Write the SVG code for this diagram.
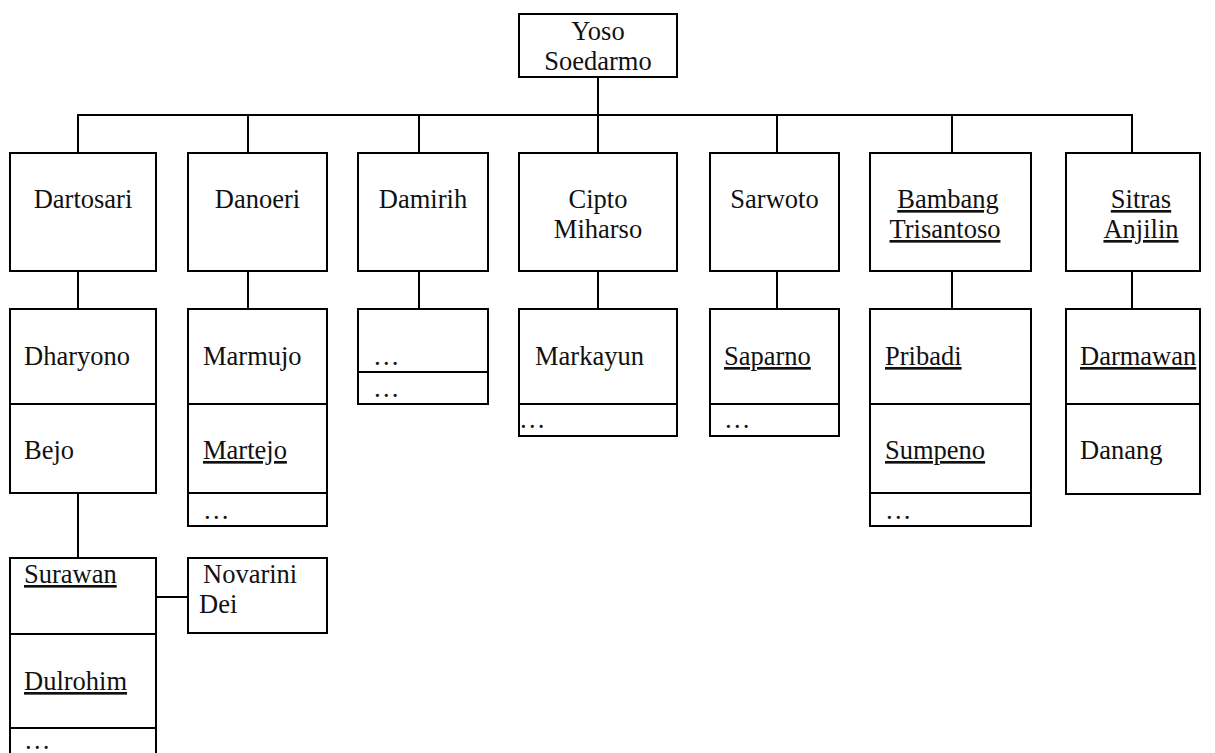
<svg xmlns="http://www.w3.org/2000/svg" width="1215" height="753" viewBox="0 0 1215 753">
<style>
rect,line{fill:none;stroke:#000;stroke-width:2}
rect{fill:#fff}
text{font-family:"Liberation Serif","Times New Roman",serif;font-size:26.5px;fill:#111}
.c{text-anchor:middle}
.u{text-decoration:underline}
</style>
<rect x="0" y="0" width="1215" height="753" style="stroke:none;fill:#fff"/>
<g id="connectors">
<line x1="598" y1="77" x2="598" y2="115"/>
<line x1="77" y1="115" x2="1133" y2="115"/>
<line x1="78" y1="115" x2="78" y2="153"/>
<line x1="248" y1="115" x2="248" y2="153"/>
<line x1="419" y1="115" x2="419" y2="153"/>
<line x1="598" y1="115" x2="598" y2="153"/>
<line x1="777" y1="115" x2="777" y2="153"/>
<line x1="952" y1="115" x2="952" y2="153"/>
<line x1="1132" y1="115" x2="1132" y2="153"/>
<line x1="78" y1="271" x2="78" y2="309"/>
<line x1="248" y1="271" x2="248" y2="309"/>
<line x1="419" y1="271" x2="419" y2="309"/>
<line x1="598" y1="271" x2="598" y2="309"/>
<line x1="777" y1="271" x2="777" y2="309"/>
<line x1="952" y1="271" x2="952" y2="309"/>
<line x1="1132" y1="271" x2="1132" y2="309"/>
<line x1="78" y1="493" x2="78" y2="558"/>
<line x1="156" y1="597" x2="188" y2="597"/>
</g>
<g id="yoso">
<rect x="519" y="14" width="158" height="63"/>
<text class="c" x="598" y="40">Yoso</text>
<text class="c" x="598" y="70">Soedarmo</text>
</g>
<g id="dartosari">
<rect x="10" y="153" width="146" height="118"/>
<text class="c" x="83" y="208">Dartosari</text>
</g>
<g id="danoeri">
<rect x="188" y="153" width="139" height="118"/>
<text class="c" x="257.5" y="208">Danoeri</text>
</g>
<g id="damirih">
<rect x="358" y="153" width="130" height="118"/>
<text class="c" x="423" y="208">Damirih</text>
</g>
<g id="cipto">
<rect x="519" y="153" width="158" height="118"/>
<text class="c" x="598" y="208">Cipto</text>
<text class="c" x="598" y="238">Miharso</text>
</g>
<g id="sarwoto">
<rect x="710" y="153" width="129" height="118"/>
<text class="c" x="774.5" y="208">Sarwoto</text>
</g>
<g id="bambang">
<rect x="870" y="153" width="161" height="118"/>
<text class="c u" x="948" y="208">Bambang</text>
<text class="c u" x="945" y="238">Trisantoso</text>
</g>
<g id="sitras">
<rect x="1066" y="153" width="134" height="118"/>
<text class="c u" x="1141" y="208">Sitras</text>
<text class="c u" x="1141" y="238">Anjilin</text>
</g>
<g id="dartosari-children">
<rect x="10" y="309" width="146" height="184"/>
<line x1="10" y1="404" x2="156" y2="404"/>
<text x="24" y="365">Dharyono</text>
<text x="24" y="459">Bejo</text>
</g>
<g id="danoeri-children">
<rect x="188" y="309" width="139" height="217"/>
<line x1="188" y1="404" x2="327" y2="404"/>
<line x1="188" y1="493" x2="327" y2="493"/>
<text x="203" y="365">Marmujo</text>
<text class="u" x="203" y="459">Martejo</text>
<text x="203" y="519">…</text>
</g>
<g id="damirih-children">
<rect x="358" y="309" width="130" height="95"/>
<line x1="358" y1="372" x2="488" y2="372"/>
<text x="373" y="365">…</text>
<text x="373" y="397">…</text>
</g>
<g id="cipto-children">
<rect x="519" y="309" width="158" height="127"/>
<line x1="519" y1="404" x2="677" y2="404"/>
<text x="535" y="365">Markayun</text>
<text x="519" y="428">…</text>
</g>
<g id="sarwoto-children">
<rect x="710" y="309" width="129" height="127"/>
<line x1="710" y1="404" x2="839" y2="404"/>
<text class="u" x="724" y="365">Saparno</text>
<text x="724" y="428">…</text>
</g>
<g id="bambang-children">
<rect x="870" y="309" width="161" height="217"/>
<line x1="870" y1="404" x2="1031" y2="404"/>
<line x1="870" y1="493" x2="1031" y2="493"/>
<text class="u" x="885" y="365">Pribadi</text>
<text class="u" x="885" y="459">Sumpeno</text>
<text x="885" y="519">…</text>
</g>
<g id="sitras-children">
<rect x="1066" y="309" width="134" height="185"/>
<line x1="1066" y1="404" x2="1200" y2="404"/>
<text class="u" x="1080" y="365">Darmawan</text>
<text x="1080" y="459">Danang</text>
</g>
<g id="surawan">
<rect x="10" y="558" width="146" height="210"/>
<line x1="10" y1="634" x2="156" y2="634"/>
<line x1="10" y1="728" x2="156" y2="728"/>
<text class="u" x="24" y="583">Surawan</text>
<text class="u" x="24" y="690">Dulrohim</text>
<text x="24" y="749">…</text>
</g>
<g id="novarini">
<rect x="188" y="558" width="139" height="75"/>
<text x="203" y="583">Novarini</text>
<text x="199" y="613">Dei</text>
</g>
</svg>
